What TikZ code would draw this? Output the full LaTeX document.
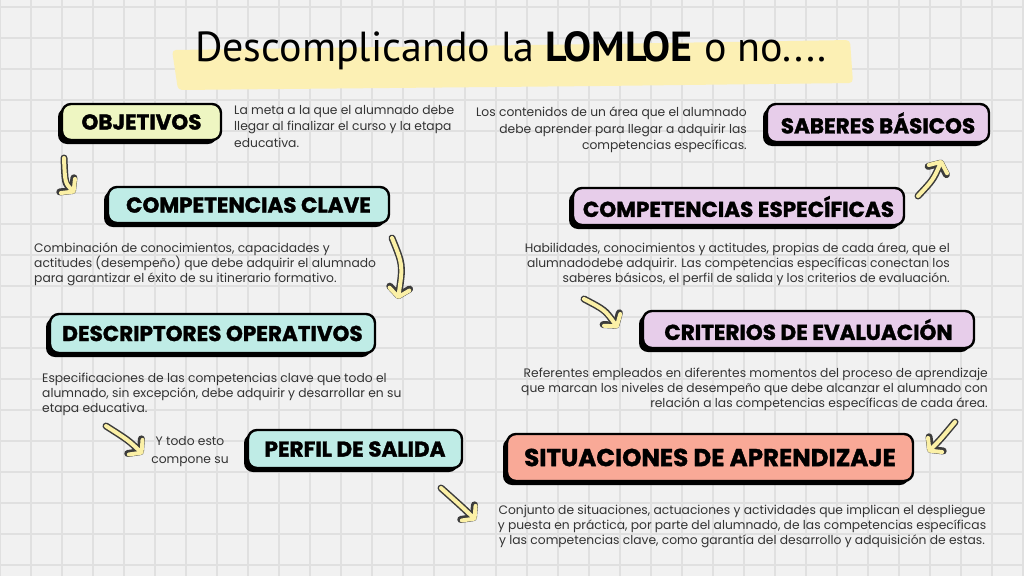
\documentclass[tikz,border=0pt]{standalone}
\usepackage{fontspec}
\setmainfont{Poppins}
\newfontfamily\titlefont{PT Sans}
\newfontfamily\labelfont{Poppins Bold}[FakeBold=1.5]
\usetikzlibrary{arrows.meta, positioning, shadows}
\definecolor{paperBg}{HTML}{F1F1F1}
\definecolor{paperGrid}{HTML}{E0E0E0}
\definecolor{colorLime}{HTML}{EEF6C2}
\definecolor{colorAqua}{HTML}{BFECE6}
\definecolor{colorLilac}{HTML}{E7CDEA}
\definecolor{colorSalmon}{HTML}{F9A997}
\definecolor{colorMarker}{HTML}{FCF0B4}
\definecolor{colorArrow}{HTML}{FBF0A6}
\definecolor{colorArrowLine}{HTML}{3C3C3C}
\definecolor{colorText}{HTML}{333333}
\tikzset{
  labelbox/.style={draw=black, line width=2.4pt, rounded corners=9pt, inner sep=0pt,
    font=\labelfont\fontsize{21.5}{21.5}\selectfont,
    drop shadow={shadow xshift=-4pt, shadow yshift=-4pt, fill=black, opacity=1}},
  desc/.style={inner sep=0pt, text=colorText, font=\fontsize{12.3}{15}\selectfont},
  arrowedge/.style={draw=colorArrowLine, line width=7pt, line cap=round, line join=round,
    -{Straight Barb[length=8pt, width=20pt, round]}},
  arrowbody/.style={draw=colorArrow, line width=4pt, line cap=round, line join=round,
    -{Straight Barb[length=8pt, width=20pt, round]}},
}
\newcommand{\handarrow}[3]{%
  \draw[arrowedge] (#1) .. controls (#2) .. (#3);
  \draw[arrowbody] (#1) .. controls (#2) .. (#3);}

\begin{document}
\begin{tikzpicture}[x=1pt, y=-1pt]
\useasboundingbox (0,0) rectangle (1024,576);
% paper
\fill[paperBg] (0,0) rectangle (1024,576);
\foreach \gx in {0,31,...,1023} \draw[paperGrid, line width=1.6pt] (\gx,0) -- (\gx,576);
\foreach \gy in {7,38,...,576} \draw[paperGrid, line width=1.6pt] (0,\gy) -- (1024,\gy);
% title
\fill[colorMarker, rounded corners=4pt] (172,50) -- (600,44) -- (850,40) -- (853,83) -- (600,86) -- (178,90) -- cycle;
\node[font=\titlefont\fontsize{42}{42}\selectfont] (title) at (511,51) {Descomplicando la \textbf{LOMLOE} o no....};
% boxes
\node[labelbox, fill=colorLime, minimum width=159pt, minimum height=36pt] (obj) at (141.5,122) {OBJETIVOS};
\node[labelbox, fill=colorAqua, minimum width=281pt, minimum height=36pt] (cc) at (248.5,205) {COMPETENCIAS CLAVE};
\node[labelbox, fill=colorAqua, minimum width=325pt, minimum height=39pt] (do) at (212.5,333.5) {DESCRIPTORES OPERATIVOS};
\node[labelbox, fill=colorAqua, minimum width=214pt, minimum height=38pt] (ps) at (355,449) {PERFIL DE SALIDA};
\node[labelbox, fill=colorLilac, minimum width=222pt, minimum height=38pt] (sb) at (878,123) {SABERES BÁSICOS};
\node[labelbox, fill=colorLilac, minimum width=331pt, minimum height=37pt] (es) at (738.5,206.5) {COMPETENCIAS ESPECÍFICAS};
\node[labelbox, fill=colorLilac, minimum width=331pt, minimum height=37pt] (ce) at (808.5,329.5) {CRITERIOS DE EVALUACIÓN};
\node[labelbox, fill=colorSalmon, minimum width=406pt, minimum height=47pt,
  font=\labelfont\fontsize{24.5}{24.5}\selectfont] (sa) at (710,457.5) {SITUACIONES DE APRENDIZAJE};
% descriptions
\node[desc, anchor=north west, align=left, font=\fontsize{12.3}{16.5}\selectfont] (objtxt) at (234,105)
  {La meta a la que el alumnado debe\\llegar al finalizar el curso y la etapa\\educativa.};
\node[desc, anchor=north east, align=right, font=\fontsize{12.3}{16.5}\selectfont] (sbtxt) at (747,107)
  {Los contenidos de un área que el alumnado\\debe aprender para llegar a adquirir las\\competencias específicas.};
\node[desc, anchor=north west, align=left] (cctxt) at (34,243)
  {Combinación de conocimientos, capacidades y\\actitudes (desempeño) que debe adquirir el alumnado\\para garantizar el éxito de su itinerario formativo.};
\node[desc, anchor=north east, align=right] (estxt) at (950,243)
  {Habilidades, conocimientos y actitudes, propias de cada área, que el\\alumnadodebe adquirir. Las competencias específicas conectan los\\saberes básicos, el perfil de salida y los criterios de evaluación.};
\node[desc, anchor=north west, align=left] (dotxt) at (42,373)
  {Especificaciones de las competencias clave que todo el\\alumnado, sin excepción, debe adquirir y desarrollar en su\\etapa educativa.};
\node[desc, anchor=north east, align=right] (cetxt) at (988,368)
  {Referentes empleados en diferentes momentos del proceso de aprendizaje\\que marcan los niveles de desempeño que debe alcanzar el alumnado con\\relación a las competencias específicas de cada área.};
\node[desc, align=center, font=\fontsize{12.3}{18}\selectfont] (pstxt) at (190,452)
  {Y todo esto\\compone su};
\node[desc, anchor=north, align=center] (satxt) at (742,505)
  {Conjunto de situaciones, actuaciones y actividades que implican el despliegue\\y puesta en práctica, por parte del alumnado, de las competencias específicas\\y las competencias clave, como garantía del desarrollo y adquisición de estas.};
% arrows
\coordinate (objS) at (64,158);   \coordinate (objE) at (75,193);
\coordinate (ccS) at (392,238);   \coordinate (ccE) at (398,299);
\coordinate (doS) at (106,426);   \coordinate (doE) at (143,454);
\coordinate (psS) at (441,488);   \coordinate (psE) at (476,520);
\coordinate (esS) at (918,196);   \coordinate (esE) at (942,160);
\coordinate (ceS) at (584,299);   \coordinate (ceE) at (618,328);
\coordinate (saS) at (955,422);   \coordinate (saE) at (928,452);
\handarrow{objS}{65,183}{objE}
\handarrow{ccS}{403,265}{ccE}
\handarrow{doS}{128,440}{doE}
\handarrow{psS}{460,505}{psE}
\handarrow{esS}{933,180}{esE}
\handarrow{ceS}{605,310}{ceE}
\handarrow{saS}{940,440}{saE}
\end{tikzpicture}
\end{document}
